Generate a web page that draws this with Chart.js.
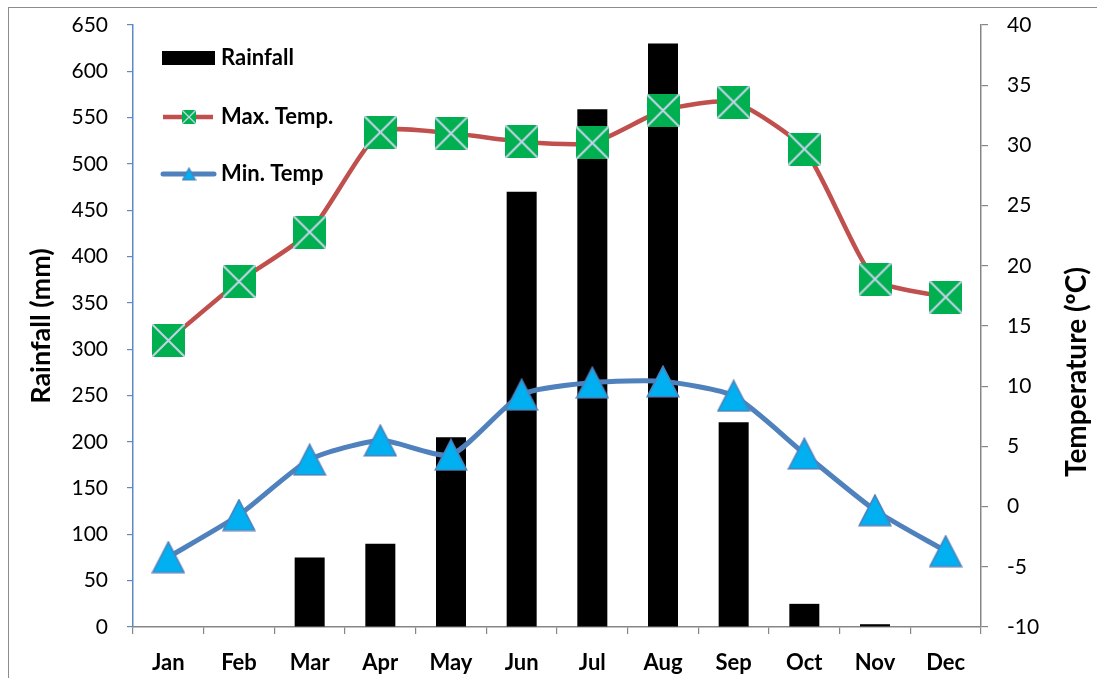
<!DOCTYPE html>
<html>
<head>
<meta charset="utf-8">
<script src="https://cdn.jsdelivr.net/npm/chart.js@4/dist/chart.umd.min.js"></script>
<style>
  html, body { margin: 0; padding: 0; background: #ffffff; }
  canvas { display: block; }
</style>
</head>
<body>
<canvas id="climate" width="1097" height="678"></canvas>
<script>
// Monthly climate data
const months = ['Jan', 'Feb', 'Mar', 'Apr', 'May', 'Jun', 'Jul', 'Aug', 'Sep', 'Oct', 'Nov', 'Dec'];
const rainfall = [0, 0, 75, 90, 205, 470, 559, 630, 221, 25, 3, 0];          // mm
const maxTemp = [13.8, 18.7, 22.8, 31.1, 31.0, 30.3, 30.2, 32.9, 33.6, 29.7, 18.9, 17.4]; // °C
const minTemp = [-4.2, -0.7, 3.9, 5.5, 4.3, 9.3, 10.3, 10.4, 9.2, 4.4, -0.3, -3.7];      // °C

const rainAxis = { min: 0, max: 650, step: 50 };
const tempAxis = { min: -10, max: 40, step: 5 };

const rainLabel = 'Rainfall';
const maxLabel = 'Max. Temp.';
const minLabel = 'Min. Temp';
const rainTitle = 'Rainfall (mm)';
const tempTitle = 'Temperature (\u00BAC)';

const FONT = 'Lato, "Open Sans", "DejaVu Sans", sans-serif';
const C_RAIN = '#000000';
const C_MAX_LINE = '#C0504D';
const C_MAX_FILL = '#00B050';
const C_MAX_CROSS = '#C6D4EA';
const C_MIN_LINE = '#4F81BD';
const C_MIN_FILL = '#00B0F0';

// Square marker with a diagonal cross
function squareMarker(size, lw) {
  const c = document.createElement('canvas');
  c.width = size; c.height = size;
  const g = c.getContext('2d');
  g.fillStyle = C_MAX_FILL;
  g.fillRect(0, 0, size, size);
  g.strokeStyle = C_MAX_CROSS;
  g.lineWidth = lw;
  g.beginPath();
  g.moveTo(0, 0); g.lineTo(size, size);
  g.moveTo(size, 0); g.lineTo(0, size);
  g.stroke();
  return c;
}

// Upward triangle marker
function triangleMarker(w, h, lw) {
  const c = document.createElement('canvas');
  c.width = w; c.height = h;
  const g = c.getContext('2d');
  const m = lw / 2 + 0.5;
  g.beginPath();
  g.moveTo(w / 2, m);
  g.lineTo(w - m, h - m);
  g.lineTo(m, h - m);
  g.closePath();
  g.fillStyle = C_MIN_FILL;
  g.fill();
  g.strokeStyle = C_MIN_LINE;
  g.lineWidth = lw;
  g.lineJoin = 'miter';
  g.stroke();
  return c;
}

const bigSquare = squareMarker(33, 2);
const bigTriangle = triangleMarker(34, 33, 1.6);
const smallSquare = squareMarker(14, 1.3);
const smallTriangle = triangleMarker(15, 14, 1.2);

// Background and outer frame
const framePlugin = {
  id: 'frame',
  beforeDraw(chart) {
    const ctx = chart.ctx;
    ctx.save();
    ctx.fillStyle = '#ffffff';
    ctx.fillRect(0, 0, chart.width, chart.height);
    ctx.strokeStyle = '#8C8C8C';
    ctx.lineWidth = 1;
    ctx.strokeRect(8.5, 7.5, chart.width + 20, chart.height + 20);
    ctx.restore();
  }
};

// Legend drawn inside the plot area, plus the right-hand axis title
const overlayPlugin = {
  id: 'overlay',
  afterDraw(chart) {
    const ctx = chart.ctx;
    const ds = chart.data.datasets;
    ctx.save();
    ctx.font = 'bold 22px ' + FONT;
    ctx.fillStyle = '#000';
    ctx.textBaseline = 'middle';
    ctx.textAlign = 'left';

    // Rainfall entry
    ctx.fillStyle = C_RAIN;
    ctx.fillRect(162, 51, 53, 14);
    ctx.fillStyle = '#000';
    ctx.fillText(ds[0].label, 221, 58);

    // Max temperature entry
    ctx.strokeStyle = C_MAX_LINE;
    ctx.lineWidth = 4.5;
    ctx.lineCap = 'butt';
    ctx.beginPath(); ctx.moveTo(163, 117); ctx.lineTo(213, 117); ctx.stroke();
    ctx.drawImage(smallSquare, 189 - 7, 117 - 7);
    ctx.fillText(ds[1].label, 221, 117);

    // Min temperature entry
    ctx.strokeStyle = C_MIN_LINE;
    ctx.lineWidth = 5;
    ctx.lineCap = 'round';
    ctx.beginPath(); ctx.moveTo(163, 174); ctx.lineTo(214, 174); ctx.stroke();
    ctx.drawImage(smallTriangle, 189 - 7.5, 174 - 7);
    ctx.fillText(ds[2].label, 221, 174);

    // Right axis title
    ctx.font = 'bold 28px ' + FONT;
    ctx.textAlign = 'center';
    ctx.translate(1077, 372);
    ctx.rotate(-Math.PI / 2);
    ctx.fillText(tempTitle, 0, 0);
    ctx.restore();
  }
};

const tickFont = { family: FONT, size: 21, weight: 'normal' };

// Fixed box sizes for the value axes so the plot area lands where intended
function fixVertical(width) {
  return function (s) {
    s.width = width;
    s.paddingTop = 0;
    s.paddingBottom = 0;
  };
}

new Chart(document.getElementById('climate'), {
  data: {
    labels: months,
    datasets: [
      {
        type: 'bar',
        label: rainLabel,
        data: rainfall,
        yAxisID: 'y',
        backgroundColor: C_RAIN,
        borderWidth: 0,
        inflateAmount: 0,
        barThickness: 30,
        order: 3
      },
      {
        type: 'line',
        label: maxLabel,
        data: maxTemp,
        yAxisID: 'y1',
        borderColor: C_MAX_LINE,
        borderWidth: 4.5,
        tension: 0.2,
        pointStyle: bigSquare,
        pointRadius: 16,
        fill: false,
        order: 1
      },
      {
        type: 'line',
        label: minLabel,
        data: minTemp,
        yAxisID: 'y1',
        borderColor: C_MIN_LINE,
        borderWidth: 5,
        tension: 0.2,
        pointStyle: bigTriangle,
        pointRadius: 16,
        fill: false,
        order: 2
      }
    ]
  },
  options: {
    responsive: false,
    animation: false,
    devicePixelRatio: 1,
    events: [],
    layout: { padding: { top: 25, left: 0, right: 0, bottom: 0 } },
    plugins: {
      legend: { display: false },
      tooltip: { enabled: false }
    },
    scales: {
      x: {
        offset: true,
        grid: { offset: true, drawOnChartArea: false, drawTicks: true, tickLength: 7, color: '#868686', lineWidth: 1.2 },
        border: { color: '#868686', width: 1.5 },
        ticks: { color: '#000', font: { family: FONT, size: 22, weight: 'bold' }, padding: 16, maxRotation: 0, autoSkip: false },
        afterFit(s) { s.height = 51; }
      },
      y: {
        position: 'left',
        min: rainAxis.min,
        max: rainAxis.max,
        grid: { drawOnChartArea: false, drawTicks: true, tickLength: 6, color: '#5B8AC6', lineWidth: 1.2 },
        border: { color: '#5B8AC6', width: 1.5 },
        ticks: { stepSize: rainAxis.step, color: '#000', font: tickFont, padding: 19 },
        title: {
          display: true,
          text: rainTitle,
          color: '#000',
          font: { family: FONT, size: 27, weight: 'bold' },
          padding: { top: 25, bottom: 0 }
        },
        afterFit: fixVertical(133)
      },
      y1: {
        position: 'right',
        min: tempAxis.min,
        max: tempAxis.max,
        grid: { drawOnChartArea: false, drawTicks: true, tickLength: 7, color: '#868686', lineWidth: 1.2 },
        border: { color: '#868686', width: 1.5 },
        ticks: { stepSize: tempAxis.step, color: '#000', font: tickFont, padding: 19 },
        afterFit: fixVertical(116)
      }
    }
  },
  plugins: [framePlugin, overlayPlugin]
});
</script>
</body>
</html>
